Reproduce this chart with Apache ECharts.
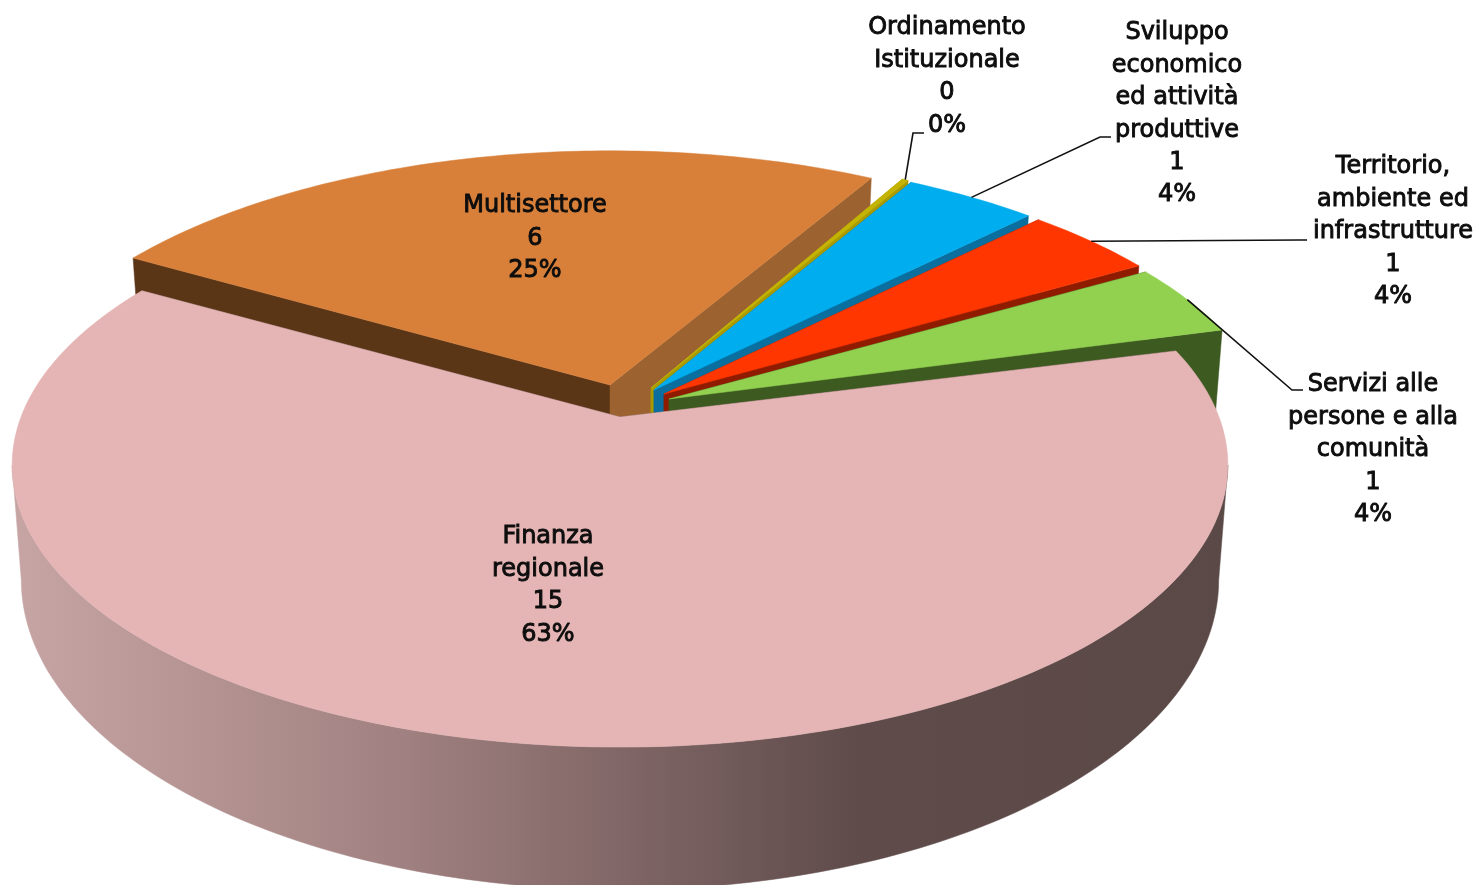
<!DOCTYPE html>
<html>
<head>
<meta charset="utf-8">
<style>
  html, body { margin: 0; padding: 0; background: #fff; }
  #chart { width: 1477px; height: 885px; }
</style>
<script src="https://cdn.jsdelivr.net/npm/echarts@6/dist/echarts.min.js"></script>
</head>
<body>
<div id="chart"></div>
<script>
// data, back slices first so the painter's order works out
var labels = [
  'Multisettore',
  'Ordinamento\nIstituzionale',
  'Sviluppo\neconomico\ned attività\nproduttive',
  'Territorio,\nambiente ed\ninfrastrutture',
  'Servizi alle\npersone e alla\ncomunità',
  'Finanza\nregionale'
]
var values = [6, 0, 1, 1, 1, 15]
var percents = [25, 0, 4, 4, 4, 63]

// styles
var topColors = ['#d8803a', '#c4b400', '#00adee', '#ff3600', '#92d050', '#e4b5b4']
var cutColors = ['#9c6230', '#a89a00', '#0a6f9e', '#8f1c00', '#3d5a20', '#5b4947']
var leftCutColors = ['#5a3516', '#a89a00', '#0a6f9e', '#8f1c00', '#3d5a20', '#5b4947']

// layout: where each slice's tip sits after being pulled out
var tips = [[610, 385], [651, 388], [654, 390], [664, 394], [669, 399], [620, 417]]
var twists = [0.2, -1, -1, -1, -0.7, 0]
var labelPos = [[535, 190], [947, 12], [1177, 17], [1393, 151], [1373, 369], [548, 521]]
var leaders = [
  null,
  [[913, 133], [924, 133]],
  [[1100, 137], [1111, 137]],
  [[1300, 240], [1307, 240]],
  [[1292, 390], [1303, 390]],
  null
]

var startAngle = -60
var minAngle = 0.7
var topDisc = { a: 599, b: 274, k: 0.17, dy: 0 }
var bottomDisc = { a: 590, b: 301, k: 0.17, dy: 110 }
// the rim only faces the viewer between these two angles
var rimFrom = 99.8
var rimTo = 260.2

var total = values.reduce(function (s, v) { return s + v }, 0)
var zeroCount = values.filter(function (v) { return v === 0 }).length
var perUnit = (360 - zeroCount * minAngle) / total

var angles = []
var cursor = startAngle
values.forEach(function (v) {
  var span = v === 0 ? minAngle : v * perUnit
  angles.push([cursor, cursor + span])
  cursor += span
})

function project(disc, tip, deg) {
  var t = deg * Math.PI / 180
  var u = Math.sin(t)
  var v = Math.cos(t)
  var w = 1 + disc.k * v
  return [tip[0] + disc.a * u / w, tip[1] + disc.dy - disc.b * v / w]
}

function arc(disc, tip, from, to) {
  var pts = []
  var n = Math.max(2, Math.ceil(Math.abs(to - from)))
  for (var i = 0; i <= n; i++) {
    pts.push(project(disc, tip, from + (to - from) * i / n))
  }
  return pts
}

function poly(points, fill) {
  return {
    type: 'polygon',
    shape: { points: points },
    style: { fill: fill, stroke: fill, lineWidth: 0.5 }
  }
}

var wallGradient = new echarts.graphic.LinearGradient(0, 0, 1228, 0, [
  { offset: 0, color: '#c9a6a6' },
  { offset: 0.33, color: '#a08080' },
  { offset: 0.7, color: '#5e4b4a' },
  { offset: 1, color: '#5b4947' }
], true)

function renderSlice(params) {
  var i = params.dataIndex
  var tip = tips[i]
  var from = angles[i][0] + twists[i]
  var to = angles[i][1] + twists[i]
  var tipLow = [tip[0], tip[1] + bottomDisc.dy]
  var kids = []

  var topArc = arc(topDisc, tip, from, to)
  var lowArc = arc(bottomDisc, tip, from, to)

  // cut walls, left one then right one
  kids.push(poly([tip, topArc[0], lowArc[0], tipLow], leftCutColors[i]))
  kids.push(poly([tip, topArc[topArc.length - 1], lowArc[lowArc.length - 1], tipLow], cutColors[i]))

  // rim, only the part that faces the viewer
  var rimA = Math.max(from, rimFrom)
  var rimB = Math.min(to, rimTo)
  if (rimB > rimA) {
    var rimTop = arc(topDisc, tip, rimA, rimB)
    var rimLow = arc(bottomDisc, tip, rimA, rimB).reverse()
    kids.push(poly(rimTop.concat(rimLow), wallGradient))
  }

  // top face
  kids.push(poly([tip].concat(topArc), topColors[i]))

  // leader line, from the middle of the slice's rim
  if (leaders[i]) {
    var mid = project(topDisc, tip, (from + to) / 2)
    kids.push({
      type: 'polyline',
      shape: { points: [mid].concat(leaders[i]) },
      style: { fill: null, stroke: '#111', lineWidth: 1.6 }
    })
  }

  kids.push({
    type: 'text',
    style: {
      text: labels[i] + '\n' + values[i] + '\n' + percents[i] + '%',
      x: labelPos[i][0],
      y: labelPos[i][1],
      align: 'center',
      verticalAlign: 'top',
      fontFamily: 'DejaVu Sans',
      fontSize: 24,
      lineHeight: 32.4,
      fill: '#0d0d0d',
      stroke: '#0d0d0d',
      lineWidth: 0.9
    }
  })

  return { type: 'group', children: kids }
}

var myChart = echarts.init(document.getElementById('chart'))
var option = {
  animation: false,
  backgroundColor: '#fff',
  series: [{
    type: 'custom',
    coordinateSystem: 'none',
    renderItem: renderSlice,
    data: values,
    silent: true
  }]
}
myChart.setOption(option)
</script>
</body>
</html>
